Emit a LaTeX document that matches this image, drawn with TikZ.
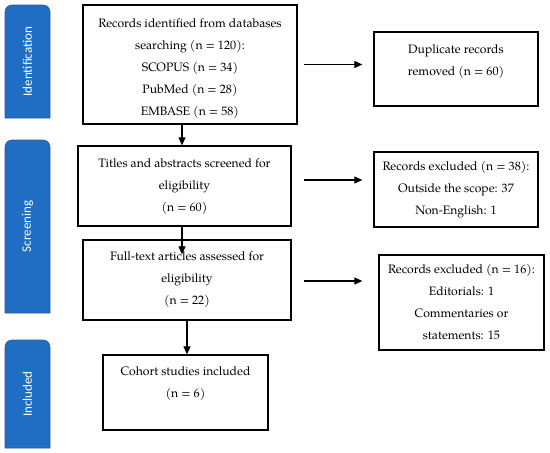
\documentclass[tikz,border=0pt]{standalone}
\usepackage{fontspec}
\setmainfont{texgyrepagella}[Extension=.otf, UprightFont=*-regular]
\newfontfamily\tabfont{Carlito}
\usetikzlibrary{arrows.meta}
\definecolor{tabblue}{RGB}{31,110,196}
\definecolor{tabedge}{RGB}{44,88,148}
\begin{document}
\begin{tikzpicture}[x=1pt,y=-1pt,
  box/.style={draw, line width=1.3pt, inner sep=0pt, align=center,
    font=\fontsize{12.2}{22}\selectfont},
  tabshape/.style={fill=tabblue, draw=tabedge, line width=0.6pt},
  tabtext/.style={text=white, rotate=90, font=\tabfont\fontsize{13}{15}\selectfont},
  arr/.style={line width=1.1pt, -{Triangle[length=8pt,width=7pt]}}]
\useasboundingbox (0,0) rectangle (550,453);
% phase tabs
\path[tabshape] (5,118) [rounded corners=7pt] -- (5,5) -- (50,5) [sharp corners] -- (50,118) -- cycle;
\path[tabshape] (5,313) [rounded corners=7pt] -- (5,140) -- (50,140) [sharp corners] -- (50,313) -- cycle;
\path[tabshape] (5,448) [rounded corners=7pt] -- (5,340) -- (50,340) [sharp corners] -- (50,448) -- cycle;
\node[tabtext] (tid) at (27.5,61.5) {Identification};
\node[tabtext] (tsc) at (27.5,226.5) {Screening};
\node[tabtext] (tin) at (27.5,394) {Included};
% main boxes
\node[box, minimum width=214pt, minimum height=119pt] (rec) at (190,64.5)
  {\rule{0pt}{16.5pt}Records identified from databases\\searching (n = 120):\\SCOPUS (n = 34)\\PubMed (n = 28)\\EMBASE (n = 58)};
\node[box, minimum width=213pt, minimum height=80pt] (tit) at (184.5,186)
  {\rule{0pt}{10.5pt}Titles and abstracts screened for\\eligibility\\(n = 60)};
\node[box, minimum width=208pt, minimum height=80pt] (ful) at (187,280)
  {Full-text articles assessed for\\eligibility\\(n = 22)};
\node[box, minimum width=165pt, minimum height=75pt, text depth=20pt] (coh) at (185.5,392.5)
  {Cohort studies included\\(n = 6)};
% side boxes
\node[box, minimum width=164pt, minimum height=74pt, text depth=18pt] (dup) at (456,69)
  {Duplicate records\\removed (n = 60)};
\node[box, minimum width=164pt, minimum height=75pt] (ex1) at (456,189.5)
  {Records excluded (n = 38):\\Outside the scope: 37\\Non-English: 1};
\node[box, minimum width=165pt, minimum height=95pt] (ex2) at (461.5,302.5)
  {Records excluded (n = 16):\\Editorials: 1\\Commentaries or\\statements: 15};
% horizontal arrows
\draw[arr, shorten <=6pt, shorten >=11pt] (rec.east) -- (rec.east -| dup.west);
\draw[arr, shorten <=12pt, shorten >=11pt] ([yshift=6pt]tit.east) -- ([yshift=6pt]tit.east -| ex1.west);
\draw[arr, shorten <=12pt, shorten >=16pt] ([yshift=-1pt]ful.east) -- ([yshift=-1pt]ful.east -| ex2.west);
% vertical arrows
\draw[arr] ([xshift=-8pt]rec.south) -- ([xshift=-8pt]rec.south |- tit.north);
\draw[arr, shorten >=-15pt] ([xshift=-2.5pt]tit.south) -- ([xshift=-2.5pt]tit.south |- ful.north);
\draw[arr] ([xshift=1.5pt]coh.north |- ful.south) -- ([xshift=1.5pt]coh.north);
\end{tikzpicture}
\end{document}
